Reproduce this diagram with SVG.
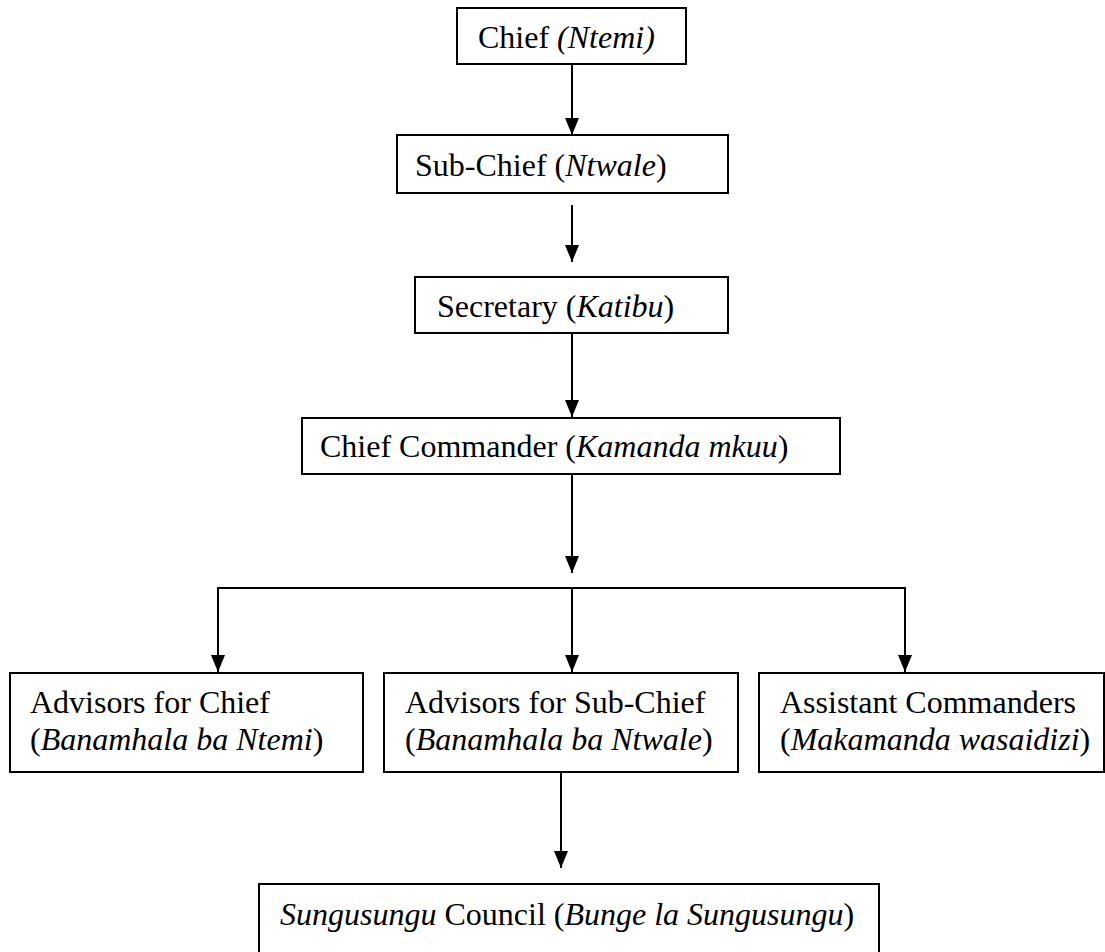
<svg xmlns="http://www.w3.org/2000/svg" width="1105" height="952" viewBox="0 0 1105 952">
<style>
  .box { fill: #fff; stroke: #000; stroke-width: 2; }
  .lbl { font-family: "Liberation Serif", "Times New Roman", serif; font-size: 32px; fill: #000; }
  .it { font-style: italic; }
  .con { fill: none; stroke: #000; stroke-width: 2; }
</style>
<defs>
  <marker id="arr" viewBox="0 0 17 14" refX="17" refY="7" markerWidth="17" markerHeight="14" markerUnits="userSpaceOnUse" orient="auto">
    <path d="M0,0 L17,7 L0,14 z" fill="#000"/>
  </marker>
</defs>
<rect width="1105" height="952" fill="#fff"/>
<g id="connectors">
  <line class="con" x1="572" y1="64" x2="572" y2="135" marker-end="url(#arr)"/>
  <line class="con" x1="572" y1="205" x2="572" y2="262" marker-end="url(#arr)"/>
  <line class="con" x1="572" y1="333" x2="572" y2="417" marker-end="url(#arr)"/>
  <line class="con" x1="572" y1="474" x2="572" y2="573" marker-end="url(#arr)"/>
  <line class="con" x1="217" y1="588" x2="906" y2="588"/>
  <line class="con" x1="218" y1="588" x2="218" y2="672" marker-end="url(#arr)"/>
  <line class="con" x1="572" y1="588" x2="572" y2="672" marker-end="url(#arr)"/>
  <line class="con" x1="905" y1="588" x2="905" y2="672" marker-end="url(#arr)"/>
  <line class="con" x1="561" y1="772" x2="561" y2="868" marker-end="url(#arr)"/>
</g>
<g id="chief">
  <rect class="box" x="457" y="8" width="229" height="56"/>
  <text class="lbl" x="478" y="48">Chief <tspan class="it">(Ntemi)</tspan></text>
</g>
<g id="subchief">
  <rect class="box" x="397" y="135" width="331" height="58"/>
  <text class="lbl" x="415" y="176">Sub-Chief (<tspan class="it">Ntwale</tspan>)</text>
</g>
<g id="secretary">
  <rect class="box" x="415" y="277" width="313" height="56"/>
  <text class="lbl" x="437" y="317">Secretary (<tspan class="it">Katibu</tspan>)</text>
</g>
<g id="chiefcommander">
  <rect class="box" x="302" y="418" width="538" height="56"/>
  <text class="lbl" x="320" y="457">Chief Commander (<tspan class="it">Kamanda mkuu</tspan>)</text>
</g>
<g id="advisorschief">
  <rect class="box" x="10" y="673" width="353" height="99"/>
  <text class="lbl" x="30" y="713">Advisors for Chief</text>
  <text class="lbl" x="30" y="750">(<tspan class="it">Banamhala ba Ntemi</tspan>)</text>
</g>
<g id="advisorssubchief">
  <rect class="box" x="384" y="673" width="354" height="99"/>
  <text class="lbl" x="405" y="713">Advisors for Sub-Chief</text>
  <text class="lbl" x="405" y="750">(<tspan class="it">Banamhala ba Ntwale</tspan>)</text>
</g>
<g id="assistantcommanders">
  <rect class="box" x="759" y="673" width="345" height="99"/>
  <text class="lbl" x="780" y="713">Assistant Commanders</text>
  <text class="lbl" x="780" y="750">(<tspan class="it">Makamanda wasaidizi</tspan>)</text>
</g>
<g id="council">
  <rect class="box" x="259" y="884" width="620" height="80"/>
  <text class="lbl" x="280" y="925"><tspan class="it">Sungusungu</tspan> Council (<tspan class="it">Bunge la Sungusungu</tspan>)</text>
</g>
</svg>
